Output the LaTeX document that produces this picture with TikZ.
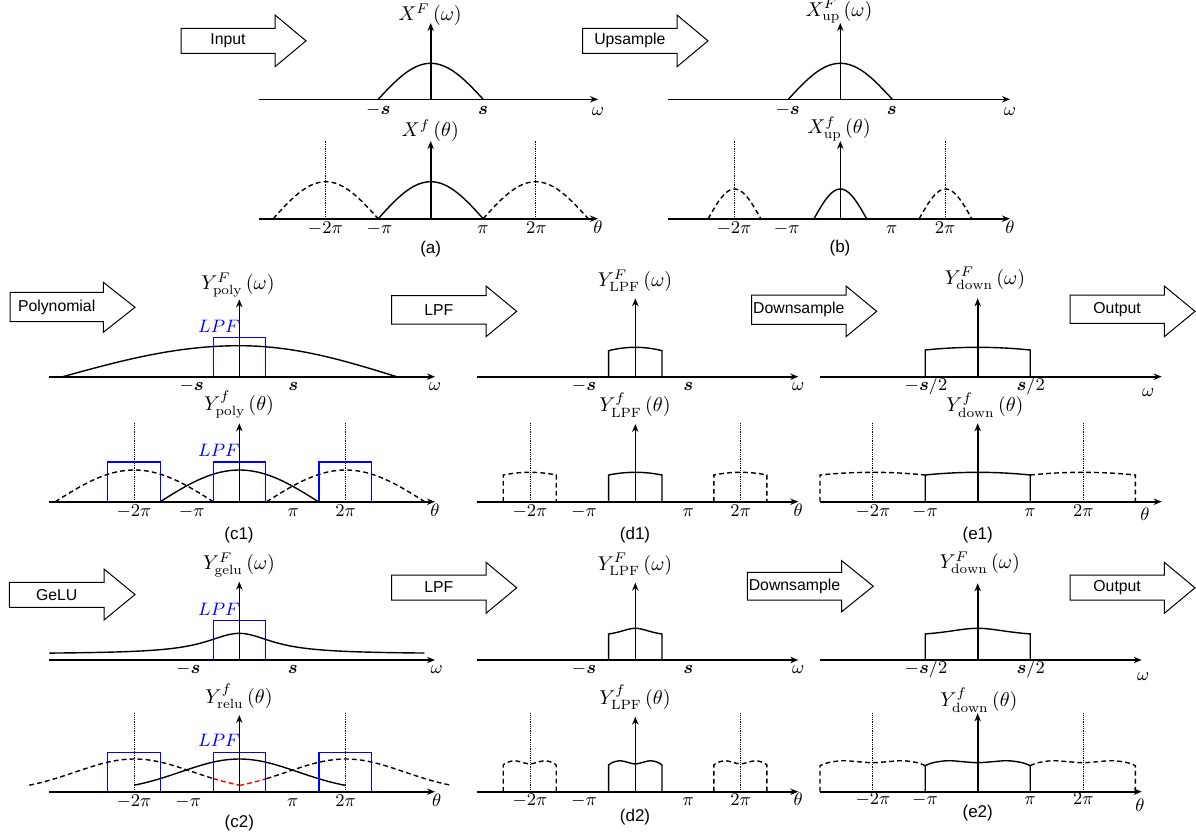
\documentclass[tikz,border=0pt]{standalone}
\usepackage{amsmath}
\usepackage{fontspec}
\setsansfont{Liberation Sans}
\usetikzlibrary{arrows.meta}
\definecolor{lpfblue}{RGB}{0,0,255}
\tikzset{
  ax/.style={line width=0.8pt, -{Stealth[length=4pt,width=3.2pt]}},
  crv/.style={line width=0.7pt},
  dsh/.style={line width=0.7pt, dash pattern=on 2.4pt off 1.6pt},
  dotln/.style={line width=0.4pt, dash pattern=on 0.45pt off 0.45pt},
  lpfbox/.style={draw=lpfblue, line width=0.75pt},
  reddsh/.style={draw=red, line width=0.7pt, dash pattern=on 2.4pt off 1.6pt},
  bigarrow/.style={draw, line width=0.5pt, fill=white},
  arrtext/.style={font=\sffamily\fontsize{7.9}{9}\selectfont, inner sep=0pt},
  lbl/.style={font=\fontsize{9.3}{10}\selectfont, inner sep=0pt, anchor=base},
  ttl/.style={font=\fontsize{9.6}{11}\selectfont, inner sep=0pt, anchor=base},
  capt/.style={font=\sffamily\fontsize{8.5}{10}\selectfont, inner sep=0pt},
  lpflbl/.style={font=\fontsize{9.3}{10}\selectfont, text=lpfblue, inner sep=0pt, anchor=base east},
}
% arrow: name, left, bodytop, bodybot, headbase, headtop, headbot, tip, text
\newcommand\bigarr[9]{%
  \draw[bigarrow] (#2,#3) -- (#5,#3) -- (#5,#6) -- (#8,{(#6+#7)/2}) -- (#5,#7) -- (#5,#4) -- (#2,#4) -- cycle;
  \node[arrtext] (#1) at ({(#2+#5)/2},{(#3+#4)/2}) {#9};}
% parabolic-top boxes: style, xc, hw, ybase, ys(side top), dh
\newcommand\arcF[6]{\draw[#1] ({#2-#3},#4) --plot[domain=-#3:#3,samples=25] ({#2+\x},{#5-#6*(1-(\x/#3)*(\x/#3))}) -- ({#2+#3},#4);}
\newcommand\arcL[6]{\draw[#1] ({#2-#3},#4) --plot[domain=-#3:#3,samples=25] ({#2+\x},{#5-#6*(1-(\x/#3)*(\x/#3))});}
\newcommand\arcR[6]{\draw[#1] plot[domain=-#3:#3,samples=25] ({#2+\x},{#5-#6*(1-(\x/#3)*(\x/#3))}) -- ({#2+#3},#4);}
% double-bump boxes: style, xc, hw, ybase, ys, hp, hd
\newcommand\dbF[7]{\draw[#1] ({#2-#3},#4) --plot[smooth,tension=0.6] coordinates {({#2-#3},{#5}) ({#2-0.85*#3},{#5-0.6*#6}) ({#2-0.57*#3},{#5-#6}) ({#2-0.28*#3},{#5-0.5*#6-0.5*#7}) ({#2},{#5-#7}) ({#2+0.28*#3},{#5-0.5*#6-0.5*#7}) ({#2+0.57*#3},{#5-#6}) ({#2+0.85*#3},{#5-0.6*#6}) ({#2+#3},{#5})} -- ({#2+#3},#4);}
\newcommand\dbL[7]{\draw[#1] ({#2-#3},#4) --plot[smooth,tension=0.6] coordinates {({#2-#3},{#5}) ({#2-0.85*#3},{#5-0.6*#6}) ({#2-0.57*#3},{#5-#6}) ({#2-0.28*#3},{#5-0.5*#6-0.5*#7}) ({#2},{#5-#7}) ({#2+0.28*#3},{#5-0.5*#6-0.5*#7}) ({#2+0.57*#3},{#5-#6}) ({#2+0.85*#3},{#5-0.6*#6}) ({#2+#3},{#5})};}
\newcommand\dbR[7]{\draw[#1] plot[smooth,tension=0.6] coordinates {({#2-#3},{#5}) ({#2-0.85*#3},{#5-0.6*#6}) ({#2-0.57*#3},{#5-#6}) ({#2-0.28*#3},{#5-0.5*#6-0.5*#7}) ({#2},{#5-#7}) ({#2+0.28*#3},{#5-0.5*#6-0.5*#7}) ({#2+0.57*#3},{#5-#6}) ({#2+0.85*#3},{#5-0.6*#6}) ({#2+#3},{#5})} -- ({#2+#3},#4);}
\newcommand\sbold{\boldsymbol{s}}
\begin{document}
\begin{tikzpicture}[x=0.5pt,y=-0.5pt]
\useasboundingbox (0,0) rectangle (1196,837);

% ---------------- big arrows ----------------
\bigarr{aIn}{181}{28.3}{53.3}{275}{15}{66.7}{306}{Input}
\bigarr{aUp}{582.7}{28.3}{53.3}{677}{15}{66.7}{708}{Upsample}
\bigarr{aPoly}{10}{292.3}{321.7}{103.3}{282.3}{332.3}{135}{Polynomial}
\bigarr{aLpfA}{391.7}{295.7}{324}{486}{286}{336.7}{516.7}{LPF}
\bigarr{aDownA}{751.7}{295}{324.3}{846}{286}{336.7}{876.7}{Downsample}
\bigarr{aOutA}{1070}{295}{323.3}{1164.3}{286}{336.7}{1195}{Output}
\bigarr{aGelu}{9.3}{582.3}{607.3}{104}{569}{620}{135}{GeLU}
\bigarr{aLpfB}{391.7}{575}{600}{486}{562.3}{613.3}{516.7}{LPF}
\bigarr{aDownB}{747.3}{572.3}{600}{841.7}{560.7}{611.7}{873.3}{Downsample}
\bigarr{aOutB}{1070}{575}{600}{1164.3}{562.3}{613.3}{1195}{Output}

% ---------------- panel (a) ----------------
\draw[crv] plot[domain=-52.5:52.5,samples=40] ({430.7+\x},{99.3-36*cos(\x*90/52.5)});
\draw[ax] (259,99.3) -- (598,99.3);
\draw[ax] (430.7,99.3) -- (430.7,23);
\node[ttl] (tXa) at (430,20.7) {$X^{F}\left(\omega\right)$};
\node[lbl] (a-s) at (378.3,114.3) {$-\sbold$};
\node[lbl] (as) at (483,114.3) {$\sbold$};
\node[lbl] (aw) at (598,115) {$\omega$};
\draw[dotln] (325.7,218.7) -- (325.7,141);
\draw[dotln] (535.7,218.7) -- (535.7,141);
\draw[crv] plot[domain=-52.5:52.5,samples=40] ({430.7+\x},{218.7-37*cos(\x*90/52.5)});
\draw[dsh] plot[domain=-52.5:52.5,samples=40] ({325.7+\x},{218.7-37*cos(\x*90/52.5)});
\draw[dsh] plot[domain=-52.5:52.5,samples=40] ({535.7+\x},{218.7-37*cos(\x*90/52.5)});
\draw[ax] (259,218.7) -- (598,218.7);
\draw[ax] (430.7,218.7) -- (430.7,141);
\node[ttl] (tXaf) at (430.3,136.7) {$X^{f}\left(\theta\right)$};
\node[lbl] (a-2p) at (325.3,233.3) {$-2\pi$};
\node[lbl] (a-p) at (379.5,233.3) {$-\pi$};
\node[lbl] (ap) at (483,233.3) {$\pi$};
\node[lbl] (a2p) at (536.3,233.3) {$2\pi$};
\node[lbl] (ath) at (598,233.3) {$\theta$};
\node[capt] (capa) at (430.7,249) {(a)};

% ---------------- panel (b) ----------------
\draw[crv] plot[domain=-52:52,samples=40] ({840.3+\x},{99.3-36*cos(\x*90/52)});
\draw[ax] (668,99.3) -- (1010,99.3);
\draw[ax] (840.3,99.3) -- (840.3,23);
\node[ttl] (tXb) at (839,16) {$X^{F}_{\mathrm{up}}\left(\omega\right)$};
\node[lbl] (b-s) at (787.7,114.3) {$-\sbold$};
\node[lbl] (bs) at (891.7,114.3) {$\sbold$};
\node[lbl] (bw) at (1010,115) {$\omega$};
\draw[dotln] (734.5,218.7) -- (734.5,141);
\draw[dotln] (945.5,218.7) -- (945.5,141);
\draw[crv] plot[domain=-26.3:26.3,samples=30] ({840.3+\x},{218.7-29.7*cos(\x*90/26.3)});
\draw[dsh] plot[domain=-26.3:26.3,samples=30] ({734.5+\x},{218.7-29.7*cos(\x*90/26.3)});
\draw[dsh] plot[domain=-26.3:26.3,samples=30] ({945.5+\x},{218.7-29.7*cos(\x*90/26.3)});
\draw[ax] (668,218.7) -- (1010,218.7);
\draw[ax] (840.3,218.7) -- (840.3,141);
\node[ttl] (tXbf) at (839,133.3) {$X^{f}_{\mathrm{up}}\left(\theta\right)$};
\node[lbl] (b-2p) at (734,233.3) {$-2\pi$};
\node[lbl] (b-p) at (786.7,233.3) {$-\pi$};
\node[lbl] (bp) at (891.7,233.3) {$\pi$};
\node[lbl] (b2p) at (945,233.3) {$2\pi$};
\node[lbl] (bth) at (1010,233.3) {$\theta$};
\node[capt] (capb) at (840,248.3) {(b)};

% ---------------- panel (c1) ----------------
\draw[crv] plot[domain=-176.6:0,samples=40] ({239.3+\x},{376.7-31*cos(\x*90/176.6)});
\draw[crv] plot[domain=0:157.4,samples=40] ({239.3+\x},{376.7-31*cos(\x*90/157.4)});
\draw[lpfbox] (213.3,376.7) -- (213.3,337.3) -- (265.7,337.3) -- (265.7,376.7);
\node[lpflbl] (c1L1) at (240,332.7) {$LPF$};
\draw[ax] (49,376.7) -- (435,376.7);
\draw[ax] (239.3,376.7) -- (239.3,299.3);
\node[ttl] (tYc1) at (238,289.3) {$Y^{F}_{\mathrm{poly}}\left(\omega\right)$};
\node[lbl] (c1-s) at (191.7,390.7) {$-\sbold$};
\node[lbl] (c1s) at (293.3,390.7) {$\sbold$};
\node[lbl] (c1w) at (435,390) {$\omega$};
\draw[dotln] (134.3,501.7) -- (134.3,423.3);
\draw[dotln] (345.7,501.7) -- (345.7,423.3);
\draw[crv] plot[domain=-79:79,samples=40] ({239.3+\x},{501.7-31.7*cos(\x*90/79)});
\draw[dsh] plot[domain=-79:79,samples=40] ({134.3+\x},{501.7-31.7*cos(\x*90/79)});
\draw[dsh] plot[domain=-79:79,samples=40] ({345.7+\x},{501.7-31.7*cos(\x*90/79)});
\draw[lpfbox] (107.7,501.7) -- (107.7,462) -- (160.7,462) -- (160.7,501.7);
\draw[lpfbox] (213.3,501.7) -- (213.3,462) -- (265.7,462) -- (265.7,501.7);
\draw[lpfbox] (319,501.7) -- (319,462) -- (371.7,462) -- (371.7,501.7);
\node[lpflbl] (c1L2) at (240,456.7) {$LPF$};
\draw[ax] (49,501.7) -- (435,501.7);
\draw[ax] (239.3,501.7) -- (239.3,423.3);
\node[ttl] (tYc1f) at (239,410) {$Y^{f}_{\mathrm{poly}}\left(\theta\right)$};
\node[lbl] (c1-2p) at (134,516.7) {$-2\pi$};
\node[lbl] (c1-p) at (191.7,516.7) {$-\pi$};
\node[lbl] (c1p) at (293.3,516.7) {$\pi$};
\node[lbl] (c12p) at (345.7,516.7) {$2\pi$};
\node[lbl] (c1th) at (435,516.7) {$\theta$};
\node[capt] (capc1) at (239,535) {(c1)};

% ---------------- panel (d1) ----------------
\arcF{crv}{635.3}{26.7}{376.7}{350.7}{3.4}
\draw[ax] (476.7,376.7) -- (798.3,376.7);
\draw[ax] (635.3,376.7) -- (635.3,298.3);
\node[ttl] (tYd1) at (635,286.7) {$Y^{F}_{\mathrm{LPF}}\left(\omega\right)$};
\node[lbl] (d1-s) at (584,390.7) {$-\sbold$};
\node[lbl] (d1s) at (688.3,390.7) {$\sbold$};
\node[lbl] (d1w) at (798.3,390.7) {$\omega$};
\draw[dotln] (530.3,501.7) -- (530.3,423.3);
\draw[dotln] (740.7,501.7) -- (740.7,423.3);
\arcF{crv}{635.3}{26.7}{501.7}{475}{2.7}
\arcF{dsh}{529.7}{26.5}{501.7}{475}{2.7}
\arcF{dsh}{740.4}{26.5}{501.7}{475}{2.7}
\draw[ax] (476.7,501.7) -- (798.3,501.7);
\draw[ax] (635.3,501.7) -- (635.3,424);
\node[ttl] (tYd1f) at (635,411.7) {$Y^{f}_{\mathrm{LPF}}\left(\theta\right)$};
\node[lbl] (d1-2p) at (530,516.7) {$-2\pi$};
\node[lbl] (d1-p) at (584,516.7) {$-\pi$};
\node[lbl] (d1p) at (688.3,516.7) {$\pi$};
\node[lbl] (d12p) at (740.7,516.7) {$2\pi$};
\node[lbl] (d1th) at (798.3,516.7) {$\theta$};
\node[capt] (capd1) at (635,535) {(d1)};

% ---------------- panel (e1) ----------------
\arcF{crv}{977.7}{52.5}{376.7}{350}{2.7}
\draw[ax] (820,376.7) -- (1161.7,376.7);
\draw[ax] (977.7,376.7) -- (977.7,298.3);
\node[ttl] (tYe1) at (985,284) {$Y^{F}_{\mathrm{down}}\left(\omega\right)$};
\node[lbl] (e1-s) at (926,390.7) {$-\sbold/2$};
\node[lbl] (e1s) at (1030.8,390.7) {$\sbold/2$};
\node[lbl] (e1w) at (1148.3,396.7) {$\omega$};
\draw[dotln] (872.7,501.7) -- (872.7,423.3);
\draw[dotln] (1083.3,501.7) -- (1083.3,423.3);
\arcF{crv}{977.7}{52.5}{501.7}{475}{2.7}
\arcL{dsh}{872.6}{52.6}{501.7}{475}{2.7}
\arcR{dsh}{1082.8}{52.6}{501.7}{475}{2.7}
\draw[ax] (820,501.7) -- (1161.7,501.7);
\draw[ax] (977.7,501.7) -- (977.7,423.3);
\node[ttl] (tYe1f) at (985,411.7) {$Y^{f}_{\mathrm{down}}\left(\theta\right)$};
\node[lbl] (e1-2p) at (873,516.7) {$-2\pi$};
\node[lbl] (e1-p) at (925,516.7) {$-\pi$};
\node[lbl] (e1p) at (1030,516.7) {$\pi$};
\node[lbl] (e12p) at (1083.3,516.7) {$2\pi$};
\node[lbl] (e1th) at (1145,520) {$\theta$};
\node[capt] (cape1) at (977.7,535) {(e1)};

% ---------------- panel (c2) ----------------
\draw[crv] plot[domain=-190:185,samples=80] ({239.3+\x},{654-20.7/(1+(\x/40.7)*(\x/40.7))});
\draw[lpfbox] (213.3,660) -- (213.3,620.7) -- (265.7,620.7) -- (265.7,660);
\node[lpflbl] (c2L1) at (240,615) {$LPF$};
\draw[ax] (49,660) -- (435,660);
\draw[ax] (239.3,660) -- (239.3,581.7);
\node[ttl] (tYc2) at (239,569.3) {$Y^{F}_{\mathrm{gelu}}\left(\omega\right)$};
\node[lbl] (c2-s) at (188.3,673.3) {$-\sbold$};
\node[lbl] (c2s) at (292.7,673.3) {$\sbold$};
\node[lbl] (c2w) at (436.7,673.3) {$\omega$};
\draw[dotln] (134.3,791.7) -- (134.3,713.3);
\draw[dotln] (345.7,791.7) -- (345.7,713.3);
\draw[crv] plot[domain=-105:106.4,samples=60] ({239.3+\x},{791.7-32.7*exp(-(\x*\x)/6845)});
\draw[dsh] plot[domain=-105:79,samples=50] ({134.3+\x},{791.7-32.7*exp(-(\x*\x)/6845)});
\draw[reddsh] plot[domain=79:105,samples=12] ({134.3+\x},{791.7-32.7*exp(-(\x*\x)/6845)});
\draw[reddsh] plot[domain=-106.4:-79,samples=12] ({345.7+\x},{791.7-32.7*exp(-(\x*\x)/6845)});
\draw[dsh] plot[domain=-79:105,samples=50] ({345.7+\x},{791.7-32.7*exp(-(\x*\x)/6845)});
\draw[lpfbox] (107.7,791.7) -- (107.7,752.3) -- (160.7,752.3) -- (160.7,791.7);
\draw[lpfbox] (213.3,791.7) -- (213.3,752.3) -- (265.7,752.3) -- (265.7,791.7);
\draw[lpfbox] (319,791.7) -- (319,752.3) -- (371.7,752.3) -- (371.7,791.7);
\node[lpflbl] (c2L2) at (240,746.7) {$LPF$};
\draw[ax] (49,791.7) -- (435,791.7);
\draw[ax] (239.3,791.7) -- (239.3,715);
\node[ttl] (tYc2f) at (239,703.3) {$Y^{f}_{\mathrm{relu}}\left(\theta\right)$};
\node[lbl] (c2-2p) at (134,806.7) {$-2\pi$};
\node[lbl] (c2-p) at (188.3,806.7) {$-\pi$};
\node[lbl] (c2p) at (292.7,806.7) {$\pi$};
\node[lbl] (c22p) at (345.7,806.7) {$2\pi$};
\node[lbl] (c2th) at (436.7,806.7) {$\theta$};
\node[capt] (capc2) at (239.3,822.7) {(c2)};

% ---------------- panel (d2) ----------------
\draw[crv] (608.6,660) --plot[domain=-26.7:26.7,samples=30] ({635.3+\x},{637.2-8.9/(1+(\x/20)*(\x/20))}) -- (662,660);
\draw[ax] (476.7,660) -- (798.3,660);
\draw[ax] (635.3,660) -- (635.3,582.7);
\node[ttl] (tYd2) at (635,570) {$Y^{F}_{\mathrm{LPF}}\left(\omega\right)$};
\node[lbl] (d2-s) at (584,673.3) {$-\sbold$};
\node[lbl] (d2s) at (688.3,673.3) {$\sbold$};
\node[lbl] (d2w) at (798.3,673.3) {$\omega$};
\draw[dotln] (530.3,791.7) -- (530.3,713.3);
\draw[dotln] (740.7,791.7) -- (740.7,713.3);
\dbF{crv}{635.3}{26.7}{791.7}{765}{4.3}{1}
\dbF{dsh}{529.7}{26.5}{791.7}{765}{4.3}{1}
\dbF{dsh}{740.4}{26.5}{791.7}{765}{4.3}{1}
\draw[ax] (476.7,791.7) -- (798.3,791.7);
\draw[ax] (635.3,791.7) -- (635.3,716.7);
\node[ttl] (tYd2f) at (635,704) {$Y^{f}_{\mathrm{LPF}}\left(\theta\right)$};
\node[lbl] (d2-2p) at (530,805) {$-2\pi$};
\node[lbl] (d2-p) at (584,805) {$-\pi$};
\node[lbl] (d2p) at (688.3,805) {$\pi$};
\node[lbl] (d22p) at (740.7,805) {$2\pi$};
\node[lbl] (d2th) at (798.3,805) {$\theta$};
\node[capt] (capd2) at (635,816.7) {(d2)};

% ---------------- panel (e2) ----------------
\draw[crv] (925.2,660) --plot[domain=-52.5:52.5,samples=40] ({977.7+\x},{637.2-8.9/(1+(\x/40)*(\x/40))}) -- (1030.2,660);
\draw[ax] (820,660) -- (1141.7,660);
\draw[ax] (977.7,660) -- (977.7,583.3);
\node[ttl] (tYe2) at (979.7,568.3) {$Y^{F}_{\mathrm{down}}\left(\omega\right)$};
\node[lbl] (e2-s) at (926,673.3) {$-\sbold/2$};
\node[lbl] (e2s) at (1030.8,673.3) {$\sbold/2$};
\node[lbl] (e2w) at (1143.3,680) {$\omega$};
\draw[dotln] (872.7,791.7) -- (872.7,713.3);
\draw[dotln] (1083.3,791.7) -- (1083.3,713.3);
\dbF{crv}{977.7}{52.5}{791.7}{765.7}{5}{3}
\dbL{dsh}{872.6}{52.6}{791.7}{765.7}{5}{3}
\dbR{dsh}{1082.8}{52.6}{791.7}{765.7}{5}{3}
\draw[ax] (820,791.7) -- (1141.7,791.7);
\draw[ax] (977.7,791.7) -- (977.7,713.3);
\node[ttl] (tYe2f) at (979,706.7) {$Y^{f}_{\mathrm{down}}\left(\theta\right)$};
\node[lbl] (e2-2p) at (873,804) {$-2\pi$};
\node[lbl] (e2-p) at (925,804) {$-\pi$};
\node[lbl] (e2p) at (1030,804) {$\pi$};
\node[lbl] (e22p) at (1083.3,804) {$2\pi$};
\node[lbl] (e2th) at (1140,811.7) {$\theta$};
\node[capt] (cape2) at (977.7,813.3) {(e2)};
\end{tikzpicture}
\end{document}
